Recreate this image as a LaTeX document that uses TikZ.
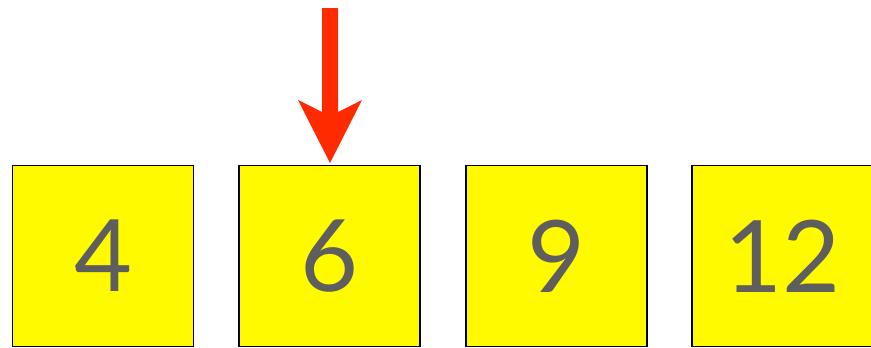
\documentclass[tikz,border=0pt]{standalone}
\usepackage{fontspec}
\setmainfont{Lato}
\definecolor{boxyellow}{HTML}{FFFA00}
\definecolor{digitgray}{HTML}{5E5E5E}
\definecolor{arrowred}{HTML}{FF2A00}
\begin{document}
\begin{tikzpicture}[x=1pt,y=-1pt,
  cell/.style={draw=black,line width=1.6pt,fill=boxyellow,minimum width=181pt,minimum height=181pt,inner sep=0pt,anchor=center,
    font=\fontsize{100}{100}\selectfont,text=digitgray}]
\useasboundingbox (0,0) rectangle (871,348);
\clip (0,0) rectangle (871,348);
\node[cell] (b1) at (103,256) {4};
\node[cell] (b2) at (329.5,256) {6};
\node[cell] (b3) at (556.5,256) {9};
\node[cell] (b4) at (782.5,256) {12};
\fill[arrowred] (322,8) -- (338,8) -- (338,112) -- (362,100) -- (330,163) -- (298,100) -- (322,112) -- cycle;
\end{tikzpicture}
\end{document}
